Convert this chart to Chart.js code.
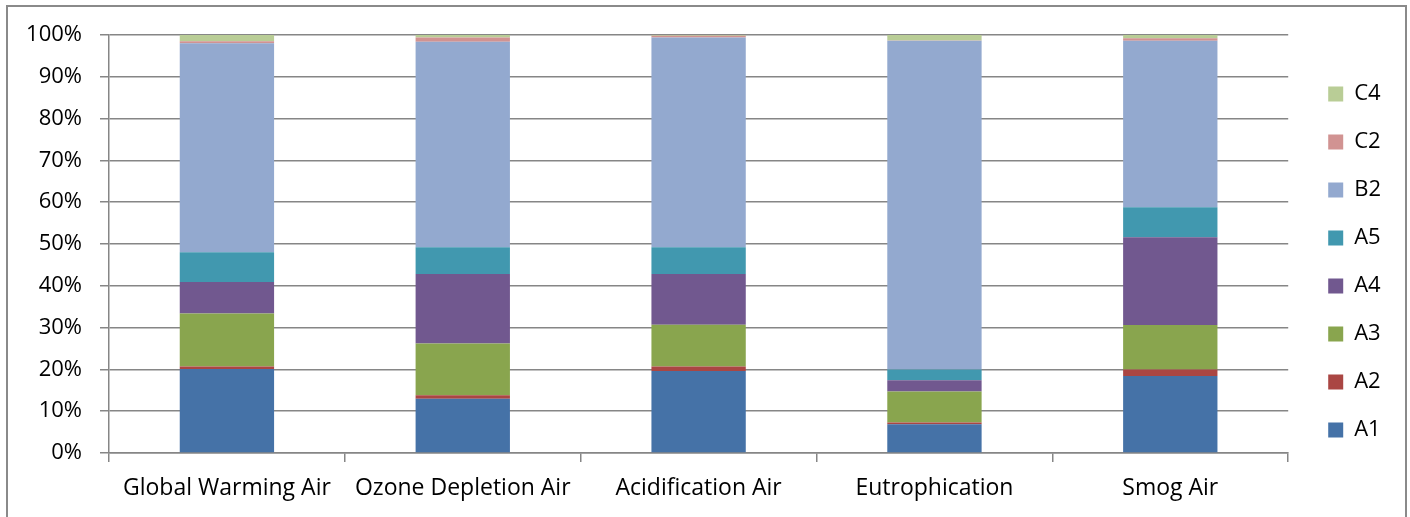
<!DOCTYPE html>
<html>
<head>
<meta charset="utf-8">
<script src="https://cdn.jsdelivr.net/npm/chart.js@4.4.1/dist/chart.umd.min.js"></script>
<style>
  body { margin: 0; background: #fff; }
  #frame { position: absolute; left: 6px; top: 5px; width: 1401px; height: 600px; box-sizing: border-box; border: 2px solid #8a8a8a; }
  #chart { position: absolute; left: 0; top: 0; }
</style>
</head>
<body>
<div id="frame"></div>
<canvas id="chart" width="1410" height="517"></canvas>
<script>
const categories = ['Global Warming Air', 'Ozone Depletion Air', 'Acidification Air', 'Eutrophication', 'Smog Air'];

// percent share of each stage, per impact category
const a1 = [20.1, 13.0, 19.6, 6.9, 18.4];
const a2 = [0.6, 0.8, 1.1, 0.4, 1.6];
const a3 = [12.7, 12.4, 10.0, 7.4, 10.6];
const a4 = [7.5, 16.6, 12.1, 2.7, 21.0];
const a5 = [7.1, 6.4, 6.4, 2.6, 7.2];
const b2 = [50.0, 49.2, 50.2, 78.6, 39.8];
const c2 = [0.5, 1.0, 0.4, 0.1, 0.6];
const c4 = [1.5, 0.6, 0.2, 1.3, 0.8];

const yTicks = [0, 10, 20, 30, 40, 50, 60, 70, 80, 90, 100];

const gridGray = '#868686';
const font = { family: "'Open Sans', sans-serif", size: 22 };

const series = [
  { label: 'A1', data: a1, color: '#4572A7' },
  { label: 'A2', data: a2, color: '#AA4643' },
  { label: 'A3', data: a3, color: '#89A54E' },
  { label: 'A4', data: a4, color: '#71588F' },
  { label: 'A5', data: a5, color: '#4198AF' },
  { label: 'B2', data: b2, color: '#93A9CF' },
  { label: 'C2', data: c2, color: '#D19392' },
  { label: 'C4', data: c4, color: '#B9CD96' }
];

new Chart(document.getElementById('chart').getContext('2d'), {
  type: 'bar',
  data: {
    labels: categories,
    datasets: series.map(s => ({
      label: s.label,
      data: s.data,
      backgroundColor: s.color,
      borderWidth: 0,
      categoryPercentage: 1,
      barPercentage: 0.4
    }))
  },
  options: {
    responsive: false,
    animation: false,
    layout: { padding: { top: 35, bottom: 28, left: 0, right: 19 } },
    plugins: {
      tooltip: { enabled: false },
      legend: {
        position: 'right',
        reverse: true,
        labels: { boxWidth: 15, boxHeight: 15, padding: 26, color: '#000', font: font }
      }
    },
    scales: {
      x: {
        stacked: true,
        grid: { drawOnChartArea: false, drawTicks: true, tickLength: 9, color: gridGray, lineWidth: 1.5 },
        border: { color: gridGray, width: 1.5 },
        ticks: { color: '#000', font: { family: font.family, size: 23 }, padding: 13, maxRotation: 0 },
        afterFit(scale) {
          scale.height = 36;
          // labels hang below the squeezed axis box, so don't clip them to it
          scale._computeLabelArea = () => undefined;
        }
      },
      y: {
        stacked: true,
        min: 0,
        max: 100,
        afterBuildTicks(scale) { scale.ticks = yTicks.map(v => ({ value: v })); },
        grid: { color: gridGray, lineWidth: 1.5, tickLength: 9 },
        border: { color: gridGray, width: 1.5 },
        ticks: { color: '#000', font: font, padding: 18, callback: v => v + '%' },
        afterFit(scale) { scale.width = 109; }
      },
      pad: {
        type: 'linear',
        position: 'right',
        grid: { display: false },
        border: { display: false },
        ticks: { display: false },
        afterFit(scale) { scale.width = 14; }
      }
    }
  }
});
</script>
</body>
</html>
